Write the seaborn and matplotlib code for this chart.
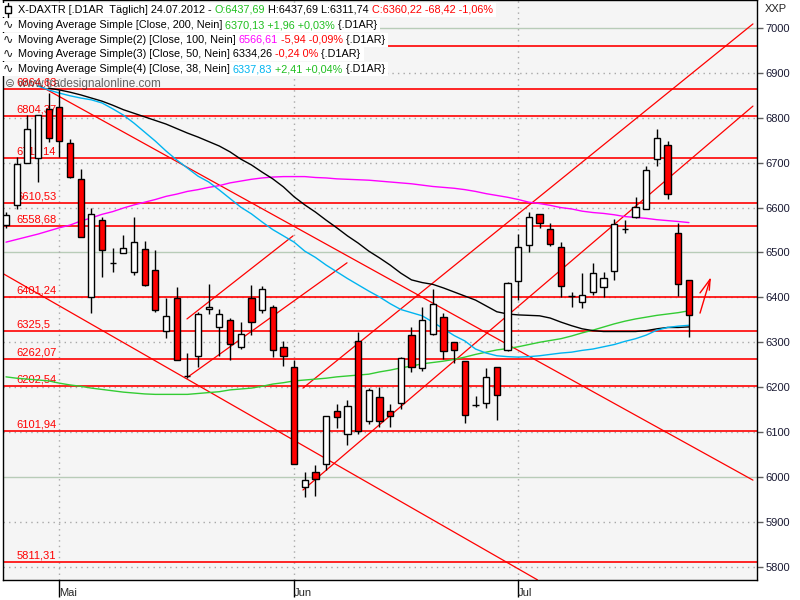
import numpy as np
import pandas as pd
import matplotlib
matplotlib.use("Agg")
import matplotlib.pyplot as plt
import matplotlib.transforms as mtrans
from matplotlib.lines import Line2D
from matplotlib.patches import Rectangle
import seaborn as sns

# Trading days 24.04.2012 - 24.07.2012 (1. Mai no trading)
dates = [d for d in pd.bdate_range("2012-04-24", "2012-07-24") if d != pd.Timestamp("2012-05-01")]
month_names = {5: "Mai", 6: "Jun", 7: "Jul"}

# X-DAXTR daily candles
opens = [6561, 6606, 6699, 6710, 6820, 6824, 6744, 6664, 6401, 6572,
         6477, 6499, 6457, 6508, 6461, 6325, 6399, 6226, 6270, 6374,
         6334, 6350, 6290, 6399, 6372, 6379, 6290, 6245, 5978, 6011,
         6029, 6147, 6096, 6303, 6125, 6178, 6147, 6165, 6316, 6243,
         6318, 6356, 6301, 6258, 6161, 6165, 6245, 6283, 6436, 6517,
         6586, 6552, 6512, 6404, 6390, 6412, 6423, 6459, 6553, 6579,
         6597, 6708, 6739, 6543, 6437.69]
highs = [6590, 6713, 6806, 6806, 6855, 6862, 6753, 6686, 6599, 6579,
         6510, 6539, 6579, 6526, 6505, 6399, 6423, 6276, 6367, 6430,
         6374, 6354, 6345, 6428, 6425, 6383, 6303, 6261, 6011, 6027,
         6136, 6163, 6172, 6323, 6198, 6200, 6163, 6267, 6334, 6379,
         6419, 6365, 6301, 6258, 6180, 6243, 6245, 6434, 6541, 6590,
         6586, 6566, 6523, 6412, 6454, 6477, 6457, 6575, 6572, 6624,
         6693, 6775, 6748, 6565, 6437.69]
lows = [6555, 6597, 6699, 6657, 6746, 6713, 6666, 6535, 6365, 6445,
        6457, 6499, 6450, 6425, 6368, 6310, 6261, 6221, 6245, 6363,
        6270, 6261, 6285, 6316, 6365, 6267, 6247, 6029, 5956, 5958,
        6016, 6109, 6071, 6096, 6118, 6111, 6111, 6151, 6234, 6236,
        6316, 6263, 6254, 6120, 6156, 6154, 6127, 6281, 6394, 6501,
        6555, 6514, 6401, 6379, 6376, 6405, 6401, 6439, 6543, 6577,
        6597, 6693, 6619, 6403, 6311.74]
closes = [6584, 6697, 6775, 6806, 6756, 6748, 6668, 6535, 6586, 6506,
          6476, 6510, 6523, 6428, 6372, 6359, 6261, 6224, 6363, 6379,
          6363, 6296, 6319, 6345, 6419, 6283, 6269, 6029, 5993, 5996,
          6136, 6134, 6158, 6103, 6194, 6125, 6136, 6265, 6245, 6350,
          6385, 6281, 6283, 6138, 6160, 6223, 6183, 6432, 6512, 6579,
          6566, 6519, 6425, 6403, 6405, 6454, 6443, 6563, 6552, 6601,
          6684, 6755, 6630, 6430, 6360.22]

# moving averages (visible part of each line)
ma200 = [6223, 6220, 6218, 6216, 6214, 6209, 6205, 6202, 6198, 6195,
         6192, 6189, 6187, 6185, 6184, 6184, 6184, 6184, 6186, 6188,
         6190, 6194, 6196, 6198, 6202, 6207, 6210, 6214, 6216, 6218,
         6220, 6223, 6225, 6227, 6229, 6234, 6238, 6243, 6247, 6252,
         6255, 6258, 6262, 6267, 6273, 6278, 6283, 6286, 6290, 6295,
         6300, 6304, 6308, 6314, 6321, 6327, 6334, 6341, 6347, 6352,
         6356, 6360, 6363, 6366, 6370.13]
ma100 = [6523, 6529, 6535, 6541, 6548, 6555, 6561, 6570, 6577, 6585,
         6591, 6599, 6606, 6612, 6618, 6625, 6630, 6636, 6640, 6645,
         6649, 6655, 6659, 6663, 6666, 6668, 6669, 6669, 6669, 6667,
         6666, 6664, 6663, 6662, 6661, 6659, 6657, 6655, 6653, 6650,
         6647, 6645, 6643, 6640, 6636, 6631, 6627, 6623, 6618, 6612,
         6609, 6605, 6600, 6597, 6592, 6589, 6587, 6584, 6580, 6578,
         6576, 6573, 6571, 6569, 6566.61]
ma50_start = 5
ma50 = [6866, 6862, 6857, 6851, 6844, 6837, 6828, 6818, 6810, 6802,
        6794, 6786, 6776, 6766, 6757, 6747, 6737, 6724, 6708, 6695,
        6679, 6664, 6646, 6624, 6606, 6590, 6572, 6555, 6537, 6521,
        6503, 6488, 6472, 6454, 6439, 6433, 6429, 6421, 6412, 6403,
        6394, 6381, 6368, 6363, 6361, 6360, 6359, 6354, 6345, 6337,
        6330, 6326, 6324, 6324, 6324, 6324, 6326, 6330, 6333, 6333,
        6334.26]
ma38_start = 4
ma38 = [6871, 6862, 6855, 6849, 6844, 6840, 6833, 6820, 6806, 6788,
        6768, 6748, 6726, 6706, 6688, 6670, 6657, 6639, 6620, 6601,
        6586, 6568, 6551, 6537, 6523, 6503, 6489, 6472, 6457, 6442,
        6428, 6414, 6401, 6386, 6373, 6366, 6359, 6345, 6330, 6315,
        6303, 6285, 6276, 6270, 6268, 6267, 6268, 6270, 6273, 6276,
        6278, 6282, 6285, 6290, 6295, 6302, 6308, 6316, 6327, 6333,
        6336, 6337.83]

# horizontal support / resistance levels
levels = [6959.2, 6864.63, 6804.37, 6711.14, 6610.53, 6558.68,
          6401.24, 6325.5, 6262.07, 6202.54, 6101.94, 5811.31]
level_labels = ["", "6864,63", "6804,37", "6711,14", "6610,53", "6558,68",
                "6401,24", "6325,5", "6262,07", "6202,54", "6101,94", "5811,31"]

# trend lines (bar index, price)
trend_x = [(0.72, 50.8), (4.19, 71.0), (17.96, 27.9), (18.06, 32.96), (28.83, 71.0), (28.83, 71.0)]
trend_y = [(6453, 5771), (6871, 5993), (6352, 6537), (6223, 6477), (6198, 7009), (5971, 6826)]

# hand drawn arrow at the last bar
arrow_x = [(66.04, 66.98), (66.04, 66.98), (66.91, 66.98)]
arrow_y = [(6365, 6440), (6410, 6440), (6416, 6440)]

sns.set_theme(style="white")
plt.rcParams['font.family'] = ['Liberation Sans', 'DejaVu Sans']

fig = plt.figure(figsize=(8, 6), dpi=100)
fig.patch.set_facecolor('white')
ax = fig.add_axes([3 / 800, 20 / 600, 754 / 800, 580 / 600])
ax.set_facecolor('#f5f5f5')

x = np.arange(1, len(dates) + 1)
ax.set_xlim(0.72, 71.38)
ax.set_ylim(5770.6, 7062.3)

# grid
for v in range(5800, 7001, 100):
    if v % 500 == 0:
        ax.axhline(v, color='#b8ccb8', lw=1, zorder=0.5)
    else:
        ax.axhline(v, color='#a8a8a8', lw=1, ls=(0, (1, 3)), zorder=0.5)
month_idx = [i + 1 for i in range(1, len(dates)) if dates[i].month != dates[i - 1].month]
for m in month_idx:
    ax.axvline(m, color='#a8a8a8', lw=1, ls=(0, (1, 3)), zorder=0.5)

# levels
label_tr = mtrans.blended_transform_factory(ax.transAxes, ax.transData)
for v, lab in zip(levels, level_labels):
    ax.axhline(v, color='red', lw=1.2, zorder=2)
    if lab:
        ax.text(0.0175, v + 3, lab, color='red', fontsize=8, va='bottom', ha='left',
                transform=label_tr, zorder=2.5)

# trend lines
for tx, ty in zip(trend_x, trend_y):
    ax.plot(tx, ty, color='red', lw=0.9, zorder=2)
for tx, ty in zip(arrow_x, arrow_y):
    ax.plot(tx, ty, color='red', lw=1, zorder=6)

# moving averages
sns.lineplot(x=x, y=ma200, color='#33cc33', lw=1, ax=ax, zorder=3)
sns.lineplot(x=x, y=ma100, color='#ff00ff', lw=1, ax=ax, zorder=3)
sns.lineplot(x=x[ma50_start - 1:], y=ma50, color='black', lw=1, ax=ax, zorder=3)
sns.lineplot(x=x[ma38_start - 1:], y=ma38, color='#00b4f0', lw=1, ax=ax, zorder=3)

# candles
o = np.array(opens)
c = np.array(closes)
h = np.array(highs)
l = np.array(lows)
up = c > o
ax.vlines(x, l, h, color='black', lw=1, zorder=4)
body_bottom = np.minimum(o, c)
body_h = np.maximum(np.abs(c - o), 0.8)
ax.bar(x, body_h, 0.58, bottom=body_bottom, color=np.where(up, 'white', 'red'),
       edgecolor='black', linewidth=1, zorder=5)

# axes look
for s in ax.spines.values():
    s.set_color('black')
    s.set_linewidth(1)
ax.yaxis.tick_right()
ax.set_yticks(range(5800, 7001, 100))
ax.set_yticklabels([str(v) for v in range(5800, 7001, 100)])
ax.tick_params(axis='y', right=True, length=4, width=1, color='#606060', pad=2,
               labelsize=8, labelcolor='#1a1a33')
ax.set_xticks(month_idx)
ax.set_xticklabels([month_names[dates[m - 1].month] for m in month_idx], ha='left')
ax.tick_params(axis='x', bottom=True, length=12, width=1, color='black', pad=-6, labelsize=8)
ax.set_xlabel('')
ax.set_ylabel('')

# watermark
ax.text(2 / 754, 1 - 84 / 580, "\u229c www.tradesignalonline.com", transform=ax.transAxes,
        color='#303030', alpha=0.75, fontsize=8.5, va='center', ha='left', zorder=7)

fig.text(765 / 800, 1 - 9 / 600, "XXP", fontsize=8, va='center', ha='left')

# header / legend rows with coloured values
green_txt = '#1fbf1f'
rows = [
    [("X-DAXTR [.D1AR  T\u00e4glich] 24.07.2012 - ", 'black'), ("O:6437,69", green_txt),
     (" H:6437,69 L:6311,74 ", 'black'), ("C:6360,22 -68,42 -1,06%", 'red')],
    [("Moving Average Simple [Close, 200, Nein] ", 'black'), ("6370,13 +1,96 +0,03%", green_txt),
     (" {.D1AR}", 'black')],
    [("Moving Average Simple(2) [Close, 100, Nein] ", 'black'), ("6566,61", '#ff00ff'),
     (" -5,94 -0,09%", 'red'), (" {.D1AR}", 'black')],
    [("Moving Average Simple(3) [Close, 50, Nein] 6334,26 ", 'black'), ("-0,24 0%", 'red'),
     (" {.D1AR}", 'black')],
    [("Moving Average Simple(4) [Close, 38, Nein] ", 'black'), ("6337,83", '#00b4f0'),
     (" +2,41 +0,04%", green_txt), (" {.D1AR}", 'black')],
]
row_y = [10, 25, 40, 54, 69]
renderer = fig.canvas.get_renderer()
for yy, parts in zip(row_y, rows):
    xp = 18
    for s, col in parts:
        t = fig.text(xp / 800, 1 - yy / 600, s, color=col, fontsize=7.8, va='center',
                     ha='left', zorder=10)
        xp = t.get_window_extent(renderer).x1
    fig.add_artist(Rectangle((0, 1 - (yy + 7) / 600), (xp + 3) / 800, 14 / 600,
                             facecolor='white', edgecolor='none', zorder=9))
for yy in row_y[1:]:
    fig.text(3 / 800, 1 - yy / 600, "\u223f", fontsize=9, va='center', ha='left',
             family=['DejaVu Sans'], zorder=11)
# candle icon in the header row
fig.add_artist(Line2D([8 / 800, 8 / 800], [1 - 3 / 600, 1 - 17 / 600], color='black',
                      lw=1, zorder=11))
fig.add_artist(Rectangle((5 / 800, 1 - 13 / 600), 6 / 800, 7 / 600, facecolor='white',
                         edgecolor='black', lw=1, zorder=11))

fig.savefig('out.png', dpi=100)
